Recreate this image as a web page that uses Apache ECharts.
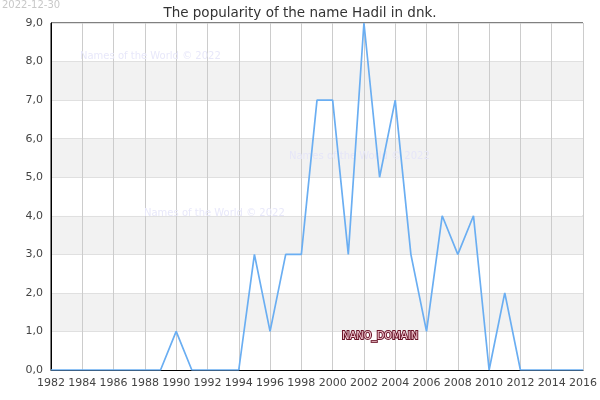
<!DOCTYPE html>
<html>
<head>
<meta charset="utf-8">
<script src="https://cdn.jsdelivr.net/npm/echarts@6/dist/echarts.min.js"></script>
<style>
  html, body { margin: 0; padding: 0; background: #fff; }
  #chart { width: 600px; height: 400px; }
</style>
</head>
<body>
<div id="chart"></div>
<script>
var years = [1982, 1983, 1984, 1985, 1986, 1987, 1988, 1989, 1990, 1991, 1992, 1993, 1994, 1995, 1996, 1997, 1998, 1999, 2000, 2001, 2002, 2003, 2004, 2005, 2006, 2007, 2008, 2009, 2010, 2011, 2012, 2013, 2014, 2015, 2016];
var counts = [0, 0, 0, 0, 0, 0, 0, 0, 1, 0, 0, 0, 0, 3, 1, 3, 3, 7, 7, 3, 9, 5, 7, 3, 1, 4, 3, 4, 0, 2, 0, 0, 0, 0, 0];
var titleText = 'The popularity of the name Hadil in dnk.';
var dateText = '2022-12-30';
var watermark = 'Names of the World © 2022';

var chart = echarts.init(document.getElementById('chart'));
var points = years.map(function (y, i) { return [y, counts[i]]; });

var option = {
    animation: false,
    title: {
        text: titleText,
        left: 'center',
        top: 1,
        textStyle: { fontSize: 13.5, fontWeight: 'normal', color: '#333', fontFamily: 'DejaVu Sans' }
    },
    graphic: [
        { type: 'text', z: 100, left: 2, top: 0, style: { text: dateText, fill: '#c8c8c8', font: '10px DejaVu Sans' } },
        { type: 'text', z: 1, left: 80, top: 51, style: { text: watermark, fill: '#e8e8fa', font: '10px DejaVu Sans' } },
        { type: 'text', z: 1, left: 289, top: 151, style: { text: watermark, fill: '#e6e6f8', font: '10px DejaVu Sans' } },
        { type: 'text', z: 1, left: 144, top: 208, style: { text: watermark, fill: '#e8e8fa', font: '10px DejaVu Sans' } },
        { type: 'text', z: 100, left: 341, top: 330, style: { text: 'NANO_DOMAIN', fill: '#f2c8d2', stroke: '#6b1428', lineWidth: 2, font: '10px DejaVu Sans' } }
    ],
    grid: {
        left: 51, right: 14, top: 23, bottom: 30,
        show: true, borderColor: '#000', borderWidth: 1
    },
    xAxis: {
        type: 'value',
        min: 1982, max: 2016, interval: 2,
        axisLine: { lineStyle: { color: '#000' } },
        axisTick: { show: false },
        axisLabel: { color: '#444', fontSize: 11, fontFamily: 'DejaVu Sans', formatter: function (v) { return String(v); } },
        splitLine: { show: true, lineStyle: { color: '#ccc' } }
    },
    yAxis: {
        type: 'value',
        min: 0, max: 9, interval: 1,
        axisLine: { show: true, lineStyle: { color: '#000' } },
        axisTick: { show: false },
        axisLabel: { color: '#444', fontSize: 11, fontFamily: 'DejaVu Sans', formatter: function (v) { return v.toFixed(1).replace('.', ','); } },
        splitLine: { show: true, lineStyle: { color: '#e0e0e0' } },
        splitArea: { show: true, areaStyle: { color: ['#ffffff', '#f2f2f2'] } }
    },
    series: [{
        type: 'line',
        data: points,
        showSymbol: false,
        lineStyle: { color: '#6aaef2', width: 1.7 },
        itemStyle: { color: '#6aaef2' }
    }]
};
chart.setOption(option);
</script>
</body>
</html>
